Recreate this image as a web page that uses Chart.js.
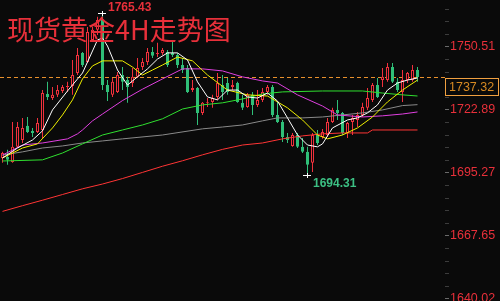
<!DOCTYPE html>
<html>
<head>
<meta charset="utf-8">
<script src="https://cdn.jsdelivr.net/npm/chart.js@4.4.1/dist/chart.umd.min.js"></script>
<style>
html,body{margin:0;padding:0;background:#0a0a0a;overflow:hidden}
#wrap{position:relative;width:500px;height:301px}
</style>
</head>
<body>
<div id="wrap"><canvas id="c"></canvas></div>
<script>
// ---------- data ----------
const chartTitle = '现货黄金4H走势图';

const opens  = [1701.8,1702.3,1700.1,1706.7,1709.7,1715.9,1713.7,1713.2,1714.1,1729.9,
                1728.1,1729.5,1731.2,1733.0,1733.4,1739.1,1747.9,1743.9,1753.6,1758.0,
                1762.3,1733.8,1729.5,1730.8,1738.2,1736.0,1734.7,1737.4,1741.7,1743.9,
                1748.3,1747.4,1747.9,1748.3,1747.9,1747.0,1742.6,1741.3,1731.6,1732.5,
                1721.6,1726.0,1726.4,1728.6,1733.8,1734.7,1733.0,1734.7,1726.0,1724.2,
                1729.5,1725.1,1727.3,1730.8,1733.0,1720.7,1717.6,1711.0,1707.1,1711.9,
                1706.7,1704.5,1699.7,1711.9,1711.0,1711.9,1717.6,1722.9,1721.6,1712.8,
                1717.6,1718.5,1720.7,1723.8,1727.3,1733.8,1736.0,1736.0,1741.7,1735.2,
                1730.8,1736.0,1736.0,1740.4];
const highs  = [1704.5,1705.4,1717.6,1717.6,1719.4,1719.8,1715.0,1719.4,1731.6,1735.2,
                1733.0,1733.8,1733.8,1735.2,1744.8,1750.1,1748.3,1759.3,1759.3,1763.7,
                1765.43,1736.0,1736.9,1739.5,1741.7,1737.4,1741.3,1745.7,1745.7,1750.1,
                1750.5,1752.3,1750.1,1749.2,1752.7,1747.9,1745.7,1742.6,1736.0,1733.0,
                1726.4,1728.1,1729.5,1739.1,1738.2,1736.9,1736.0,1735.2,1729.5,1730.3,
                1730.8,1731.6,1732.5,1733.8,1733.8,1726.4,1718.5,1712.8,1712.8,1712.8,
                1710.6,1706.7,1712.8,1714.1,1714.5,1719.4,1723.8,1727.3,1722.0,1717.6,
                1720.7,1722.0,1726.0,1732.5,1734.7,1736.9,1741.3,1743.5,1743.5,1736.9,
                1740.4,1739.5,1742.6,1741.7];
const lows   = [1699.7,1698.8,1699.7,1706.2,1708.4,1712.8,1711.0,1712.8,1710.6,1727.3,
                1727.3,1728.6,1730.3,1730.8,1729.5,1738.2,1741.7,1743.5,1752.7,1755.8,
                1731.6,1726.8,1728.6,1730.3,1731.6,1726.0,1733.0,1736.9,1740.4,1742.6,
                1745.7,1746.1,1747.0,1741.7,1746.1,1741.3,1739.1,1730.3,1730.8,1716.3,
                1720.7,1724.2,1723.8,1727.3,1727.3,1729.5,1731.6,1726.0,1722.9,1723.8,
                1720.7,1724.2,1726.4,1729.5,1719.8,1717.2,1708.8,1708.4,1706.7,1706.2,
                1704.0,1694.31,1695.7,1707.5,1710.2,1711.0,1717.2,1718.5,1711.9,1710.6,
                1711.9,1715.4,1719.8,1722.9,1726.4,1728.1,1733.0,1735.2,1734.7,1730.8,
                1726.4,1734.7,1735.2,1735.2];
const closes = [1704.0,1701.0,1706.7,1715.4,1715.0,1713.2,1712.8,1717.2,1730.3,1728.6,
                1729.5,1731.6,1733.0,1733.4,1738.2,1747.0,1742.6,1757.1,1758.0,1762.3,
                1733.8,1730.8,1735.2,1738.2,1735.2,1733.0,1737.4,1741.3,1743.9,1748.3,
                1746.6,1747.9,1749.2,1742.6,1747.0,1742.6,1740.4,1730.8,1732.5,1721.6,
                1726.0,1726.4,1728.1,1734.7,1730.8,1730.8,1733.8,1726.4,1723.8,1729.5,
                1725.1,1727.3,1730.8,1733.0,1720.7,1717.6,1711.0,1709.7,1711.9,1706.7,
                1704.5,1698.8,1711.9,1708.4,1713.2,1717.6,1722.9,1721.6,1712.8,1717.2,
                1719.4,1720.7,1724.2,1728.1,1733.8,1728.6,1737.4,1741.7,1735.2,1731.6,
                1736.0,1739.1,1740.4,1737.32];

// moving averages: [candle index, value]
const maWhite   = [[0,1701.8],[3,1706.2],[6,1709.7],[8,1713.7],[10,1722.9],[13,1731.2],[16,1739.1],[17,1743.9],[19,1753.6],[20,1754.4],[21,1750.9],[23,1740.4],[25,1733.8],[27,1737.4],[29,1740.9],[31,1745.2],[33,1747.9],[35,1747.9],[37,1744.8],[39,1735.2],[41,1728.6],[43,1727.3],[45,1731.6],[47,1731.6],[49,1728.6],[51,1728.1],[53,1730.3],[55,1726.8],[57,1719.4],[59,1711.9],[61,1707.5],[63,1706.7],[64,1708.0],[66,1715.0],[69,1718.5],[71,1719.4],[73,1721.6],[75,1725.1],[77,1731.6],[79,1734.7],[81,1736.0],[83,1736.9]];
const maYellow  = [[0,1701.8],[4,1706.2],[7,1708.0],[10,1715.0],[12,1720.7],[14,1727.3],[16,1736.5],[18,1742.2],[20,1744.4],[24,1744.4],[26,1741.7],[28,1738.2],[30,1740.4],[32,1742.6],[35,1746.1],[38,1744.4],[41,1738.2],[45,1731.6],[49,1729.5],[53,1729.0],[57,1723.8],[60,1718.5],[63,1711.9],[65,1710.2],[68,1711.9],[71,1715.0],[74,1719.8],[77,1726.4],[80,1731.6],[83,1736.0]];
const maMagenta = [[0,1703.1],[4,1707.5],[8,1708.4],[13,1710.2],[15,1712.4],[16,1714.1],[18,1718.1],[20,1721.1],[24,1727.0],[28,1732.0],[32,1736.5],[36,1740.9],[40,1740.9],[44,1740.0],[48,1737.4],[52,1735.6],[55,1734.7],[59,1729.5],[64,1724.6],[67,1720.7],[72,1719.8],[76,1720.3],[80,1721.1],[83,1722.0]];
const maGreen   = [[0,1700.5],[8,1701.0],[12,1704.0],[16,1708.0],[20,1711.9],[24,1714.1],[28,1716.3],[32,1719.0],[36,1723.3],[40,1725.1],[44,1726.0],[48,1727.7],[52,1729.9],[56,1730.8],[64,1731.2],[72,1731.2],[76,1730.3],[80,1729.5],[83,1729.0]];
const maGray    = [[0,1703.1],[4,1704.5],[8,1706.2],[12,1707.1],[16,1708.4],[20,1709.3],[24,1710.2],[32,1711.9],[40,1714.6],[44,1715.4],[48,1716.3],[52,1718.1],[55,1719.4],[60,1719.4],[64,1719.8],[68,1720.7],[72,1721.6],[76,1722.9],[80,1724.8],[83,1725.2]];
const maRed     = [[0,1678.4],[4,1680.9],[8,1683.3],[12,1685.8],[16,1688.3],[20,1690.4],[24,1692.8],[28,1695.5],[32,1698.2],[36,1700.6],[40,1703.2],[44,1705.6],[48,1707.5],[52,1708.4],[56,1710.2],[60,1711.5],[64,1712.4],[68,1712.8],[73,1712.8],[74,1714.1],[83,1714.1]];

const yTicks = [1750.51, 1722.89, 1695.27, 1667.65, 1640.02];
const yRange = [1639.1, 1771.1];
const emptySlots = 5;

// ---------- styling ----------
const BG = '#0a0a0a';
const UP = '#f0303c';
const DOWN = '#2fbf78';
const AXIS_RED = '#e8303a';

const N = opens.length;
const categories = Array.from({length: N + emptySlots}, (_, i) => i);
const isUp = i => closes[i] >= opens[i];
const toSeries = pts => { const a = new Array(N).fill(null); pts.forEach(([i, v]) => { a[i] = v; }); return a; };

// tick positions: each major plus 4 minor marks above it
const tickStep = (yTicks[0] - yTicks[1]) / 5;
const tickList = [];
yTicks.forEach(t => {
  tickList.push(t);
  for (let k = 1; k < 5; k++) { const v = t + k * tickStep; if (v <= yRange[1]) tickList.push(v); }
});
tickList.sort((a, b) => a - b);
const majorOf = v => yTicks.find(t => Math.abs(t - v) < 0.001);

const lineDefs = [
  {pts: maWhite, color: '#ffffff'},
  {pts: maYellow, color: '#f0f000'},
  {pts: maMagenta, color: '#e040e0'},
  {pts: maGreen, color: '#30e030'},
  {pts: maGray, color: '#8a8a8a'},
  {pts: maRed, color: '#ff3535'}
];

const overlay = {
  id: 'overlay',
  beforeDatasetsDraw(chart) {
    const {ctx, chartArea} = chart;
    const ys = chart.scales.y;
    const y = Math.round(ys.getPixelForValue(closes[N - 1])) + 0.5;
    ctx.save();
    ctx.strokeStyle = '#e8902c';
    ctx.lineWidth = 1;
    ctx.setLineDash([4, 3]);
    ctx.beginPath();
    ctx.moveTo(chartArea.left, y);
    ctx.lineTo(chartArea.right, y);
    ctx.stroke();
    ctx.restore();
  },
  afterDraw(chart) {
    const {ctx, chartArea} = chart;
    const xs = chart.scales.x, ys = chart.scales.y;
    ctx.save();
    // title
    ctx.font = '27px "Noto Sans CJK SC"';
    ctx.fillStyle = AXIS_RED;
    ctx.textBaseline = 'alphabetic';
    ctx.textAlign = 'left';
    ctx.fillText(chartTitle, 7, 40);

    // high / low markers
    const hiVal = Math.max(...highs), hiIdx = highs.indexOf(hiVal);
    const loVal = Math.min(...lows), loIdx = lows.indexOf(loVal);
    const cross = (x, y) => {
      ctx.strokeStyle = '#ffffff'; ctx.lineWidth = 1;
      ctx.beginPath();
      ctx.moveTo(x - 4, y + 0.5); ctx.lineTo(x + 4, y + 0.5);
      ctx.moveTo(x + 0.5, y - 2); ctx.lineTo(x + 0.5, y + 3);
      ctx.stroke();
    };
    const hx = Math.floor(xs.getPixelForValue(hiIdx)), hy = Math.round(ys.getPixelForValue(hiVal));
    cross(hx, hy);
    ctx.font = 'bold 12px "Liberation Sans"';
    ctx.textBaseline = 'middle';
    ctx.fillStyle = AXIS_RED;
    ctx.fillText(hiVal.toFixed(2), hx + 6, hy - 5);
    const lx = Math.floor(xs.getPixelForValue(loIdx)), ly = Math.round(ys.getPixelForValue(loVal));
    cross(lx, ly);
    ctx.fillStyle = '#3cc084';
    ctx.fillText(loVal.toFixed(2), lx + 6, ly + 9);

    // last price box
    const py = Math.round(ys.getPixelForValue(closes[N - 1]));
    const bx = chartArea.right + 0.5, by = py + 1.5, bw = 53, bh = 17;
    ctx.fillStyle = BG;
    ctx.fillRect(bx, by, bw, bh);
    ctx.strokeStyle = '#f0a040';
    ctx.lineWidth = 1;
    ctx.strokeRect(bx, by, bw, bh);
    ctx.font = '12.5px "Liberation Sans"';
    ctx.fillStyle = '#d88a22';
    ctx.textBaseline = 'middle';
    ctx.fillText(closes[N - 1].toFixed(2), chartArea.right + 4, by + bh / 2 + 0.5);
    ctx.restore();
  }
};

new Chart(document.getElementById('c'), {
  type: 'bar',
  data: {
    labels: categories,
    datasets: [
      ...lineDefs.map(d => ({
        type: 'line', data: toSeries(d.pts), borderColor: d.color, borderWidth: 1,
        pointRadius: 0, spanGaps: true, tension: 0, order: 0
      })),
      {
        type: 'bar', data: opens.map((o, i) => [o, closes[i]]),
        backgroundColor: c => isUp(c.dataIndex) ? BG : DOWN,
        borderColor: c => isUp(c.dataIndex) ? UP : DOWN,
        borderWidth: 1, borderSkipped: false, barThickness: 3, grouped: false,
        inflateAmount: 0, order: 1
      },
      {
        type: 'bar', data: lows.map((l, i) => [l, highs[i]]),
        backgroundColor: c => isUp(c.dataIndex) ? UP : DOWN,
        borderWidth: 0, barThickness: 1, grouped: false, inflateAmount: 0, order: 2
      }
    ]
  },
  options: {
    responsive: true,
    maintainAspectRatio: false,
    animation: false,
    layout: {padding: 0},
    plugins: {legend: {display: false}, tooltip: {enabled: false}, title: {display: false}},
    scales: {
      x: {type: 'category', display: false, offset: true, grid: {display: false}},
      y: {
        position: 'right', min: yRange[0], max: yRange[1],
        afterBuildTicks: s => { s.ticks = tickList.map(v => ({value: v})); },
        afterFit: s => { s.width = 55; s.paddingTop = 0; s.paddingBottom = 0; },
        ticks: {
          autoSkip: false, padding: 1, color: AXIS_RED,
          font: {family: 'Liberation Sans', size: 12.5},
          callback: v => { const m = majorOf(v); return m === undefined ? '' : m.toFixed(2); }
        },
        grid: {
          drawOnChartArea: false, drawTicks: true, tickLength: 4,
          color: c => (c.tick && majorOf(c.tick.value) !== undefined) ? '#6a6a6a' : '#3c3c3c'
        },
        border: {display: false}
      }
    }
  },
  plugins: [overlay]
});
</script>
</body>
</html>
